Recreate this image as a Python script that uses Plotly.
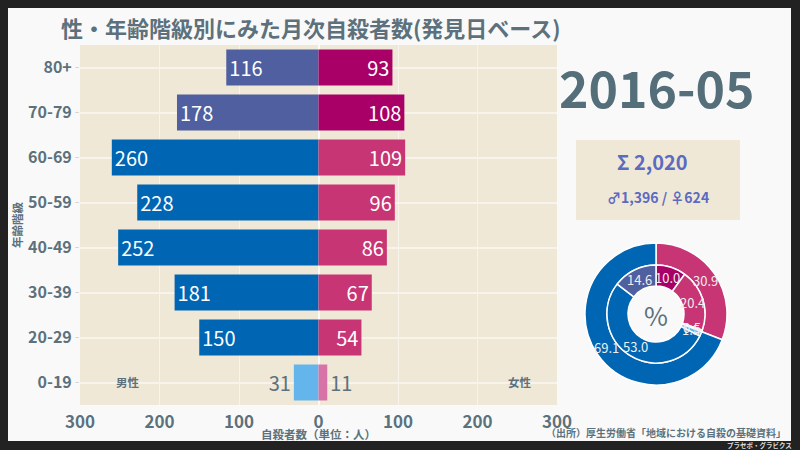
import math
import plotly.graph_objects as go

# ---------------- data ----------------
ages = ["0-19", "20-29", "30-39", "40-49", "50-59", "60-69", "70-79", "80+"]
male = [31, 150, 181, 252, 228, 260, 178, 116]
female = [11, 54, 67, 86, 96, 109, 108, 93]
period = "2016-05"
x_tickvals = [-300, -200, -100, 0, 100, 200, 300]
x_ticktext = ["300", "200", "100", "0", "100", "200", "300"]

# ---------------- styles ----------------
FONT = "Noto Sans CJK JP"
GRAY = "#5c717c"
INDIGO = "#5c6bc0"
BEIGE = "#efe8d7"
WHITE_BG = "#f9f9f9"
FRAME = "#222222"
M_YOUNG, M_MID, M_OLD = "#64b5ec", "#0066b3", "#4f5f9f"
F_YOUNG, F_MID, F_OLD = "#d873a8", "#c73574", "#a80066"

def group_color(age, young, mid, old):
    if age == "0-19":
        return young
    if age in ("70-79", "80+"):
        return old
    return mid

male_colors = [group_color(a, M_YOUNG, M_MID, M_OLD) for a in ages]
female_colors = [group_color(a, F_YOUNG, F_MID, F_OLD) for a in ages]
textpos = ["outside" if a == "0-19" else "inside" for a in ages]

W, H = 800, 450
def px(x):
    return x / W
def py(y):
    return 1 - y / H

fig = go.Figure()

for vals, cols in ((male, male_colors), (female, female_colors)):
    sign = -1 if vals is male else 1
    fig.add_trace(go.Bar(
        y=ages, x=[sign * v for v in vals], orientation="h",
        marker=dict(color=cols, line=dict(width=0)),
        text=[str(v) for v in vals], textposition=textpos,
        insidetextanchor="end", constraintext="none",
        insidetextfont=dict(color="white", size=20, family=FONT),
        outsidetextfont=dict(color=GRAY, size=20, family=FONT),
        hoverinfo="skip", showlegend=False,
    ))

# ---------------- donut ----------------
total = sum(male) + sum(female)
m_sum, f_sum = sum(male), sum(female)
idx_young = [i for i, a in enumerate(ages) if a == "0-19"]
idx_old = [i for i, a in enumerate(ages) if a in ("70-79", "80+")]
idx_mid = [i for i in range(len(ages)) if i not in idx_young + idx_old]

def part(arr, idx):
    return sum(arr[i] for i in idx)

outer_vals = [f_sum, m_sum]
outer_cols = [F_MID, M_MID]
inner_vals = [part(female, idx_old), part(female, idx_mid), part(female, idx_young),
              part(male, idx_young), part(male, idx_mid), part(male, idx_old)]
inner_cols = [F_OLD, F_MID, F_YOUNG, M_YOUNG, M_MID, M_OLD]

cx, cy, r_out, r_mid, r_in = 656, 314, 71, 49, 28

for vals, cols, r1, r0 in ((outer_vals, outer_cols, r_out, r_mid),
                           (inner_vals, inner_cols, r_mid, r_in)):
    fig.add_trace(go.Pie(
        values=vals, sort=False, direction="clockwise", rotation=0,
        marker=dict(colors=cols, line=dict(color="white", width=1.5)),
        hole=r0 / r1, textinfo="none",
        domain=dict(x=[px(cx - r1), px(cx + r1)], y=[py(cy + r1), py(cy - r1)]),
        hoverinfo="skip", showlegend=False,
    ))

def ann(text, x, y, size, color=GRAY, bold=True, xanchor="center", **kw):
    t = f"<b>{text}</b>" if bold else text
    return dict(text=t, x=px(x), y=py(y), xref="paper", yref="paper",
                xanchor=xanchor, yanchor="middle", showarrow=False,
                font=dict(size=size, color=color, family=FONT), **kw)

# percentage labels at each slice's mid-angle, mid-radius
pie_labels = []
for vals, r1, r0 in ((outer_vals, r_out, r_mid), (inner_vals, r_mid, r_in)):
    s = sum(vals)
    cum = 0
    rm = (r1 + r0) / 2
    for v in vals:
        mid = (cum + v / 2) / s * 2 * math.pi
        cum += v
        pie_labels.append(ann(f"{v / total * 100:.1f}",
                              cx + rm * math.sin(mid), cy - rm * math.cos(mid),
                              13, color="#eeeeee", bold=False))

# ---------------- layout ----------------
shapes = [
    dict(type="rect", xref="paper", yref="paper", layer="below",
         x0=px(8), x1=px(791), y0=py(441), y1=py(8),
         fillcolor=WHITE_BG, line=dict(width=0)),
    dict(type="rect", xref="paper", yref="paper", layer="below",
         x0=px(80), x1=px(557), y0=py(405), y1=py(45),
         fillcolor=BEIGE, line=dict(width=0)),
    dict(type="rect", xref="paper", yref="paper", layer="below",
         x0=px(576), x1=px(740), y0=py(220), y1=py(140),
         fillcolor=BEIGE, line=dict(width=0)),
]

annotations = [
    ann("性・年齢階級別にみた月次自殺者数(発見日ベース)", 311, 27, 22),
    ann(period, 657, 86, 50, color="#546e7a"),
    ann(f"Σ {total:,}", 652, 161, 20, color=INDIGO),
    ann(f"♂{m_sum:,} / ♀{f_sum:,}", 658, 197, 14, color=INDIGO),
    ann("%", cx, cy, 26, bold=False),
    ann("男性", 128, 382, 11.5),
    ann("女性", 520, 382, 11.5),
    ann("自殺者数（単位：人）", 318, 434, 11.5),
    ann("年齢階級", 17, 225, 11.5, textangle=-90),
    ann("（出所）厚生労働省「地域における自殺の基礎資料」", 788, 432, 10, xanchor="right"),
    ann("プラセボ・グラビクス", 794, 445, 6.5, color="#dddddd", xanchor="right"),
] + pie_labels

fig.update_layout(
    width=W, height=H,
    margin=dict(l=0, r=0, t=0, b=0, autoexpand=False),
    paper_bgcolor=FRAME,
    plot_bgcolor="rgba(0,0,0,0)",
    barmode="relative", bargap=0.2,
    font=dict(family=FONT, color=GRAY),
    shapes=shapes, annotations=annotations,
    hovermode=False,
    xaxis=dict(domain=[px(80), px(557)], range=[-300, 300], automargin=False,
               tickvals=x_tickvals, ticktext=[f"<b>{t}</b>" for t in x_ticktext],
               tickfont=dict(size=17, color=GRAY, family=FONT),
               showgrid=True, gridcolor="#f8f4ec", gridwidth=1,
               zeroline=True, zerolinecolor="#fbfaf6", zerolinewidth=2,
               showline=False, ticks="outside", ticklen=2,
               tickcolor="rgba(0,0,0,0)", fixedrange=True),
    yaxis=dict(domain=[py(405), py(45)], type="category", automargin=False,
               categoryorder="array", categoryarray=ages, range=[-0.5, 7.5],
               tickvals=ages, ticktext=[f"<b>{a}</b>" for a in ages],
               tickfont=dict(size=16, color=GRAY, family=FONT),
               showgrid=True, gridcolor="#f8f4ec", gridwidth=1.5,
               ticks="outside", ticklen=4, tickcolor="#d8d8d8",
               showline=False, zeroline=False, fixedrange=True),
)

fig.write_html("out.html", config={"displayModeBar": False},
               post_script="document.body.style.margin='0';document.body.style.overflow='hidden';")
